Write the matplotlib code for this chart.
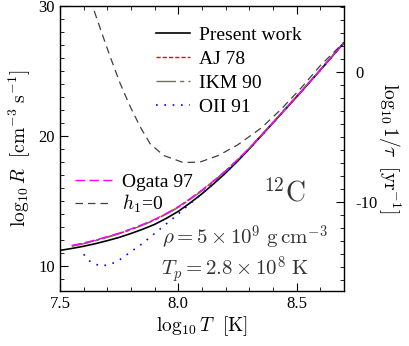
import matplotlib as mpl
mpl.use('Agg')
import matplotlib.pyplot as plt
from matplotlib.ticker import MultipleLocator, FixedLocator, FixedFormatter

plt.rcParams['font.family'] = ['Liberation Serif', 'DejaVu Serif']
plt.rcParams['mathtext.fontset'] = 'cm'

# log10 T and log10 R
t_present = [7.5, 7.55, 7.6, 7.65, 7.7, 7.75, 7.8, 7.85, 7.9, 7.95, 8.0, 8.05, 8.1,
             8.15, 8.2, 8.25, 8.3, 8.35, 8.4, 8.45, 8.5, 8.55, 8.6, 8.65, 8.7]
r_present = [11.2, 11.35, 11.52, 11.72, 11.95, 12.2, 12.5, 12.83, 13.2, 13.67, 14.2, 14.85, 15.55,
             16.33, 17.15, 18.05, 19.0, 20.0, 21.0, 22.0, 23.0, 24.02, 25.05, 26.1, 27.15]

t_grid = [7.55, 7.6, 7.65, 7.7, 7.75, 7.8, 7.85, 7.9, 7.95, 8.0, 8.05, 8.1,
          8.15, 8.2, 8.25, 8.3, 8.35, 8.4, 8.45, 8.5, 8.55, 8.6, 8.65, 8.7]
r_aj = [11.55, 11.74, 11.97, 12.23, 12.5, 12.82, 13.17, 13.55, 14.02, 14.53, 15.15, 15.81,
        16.53, 17.3, 18.15, 19.05, 20.02, 21.02, 22.02, 23.02, 24.04, 25.07, 26.12, 27.17]
r_ikm = [11.52, 11.71, 11.94, 12.2, 12.47, 12.79, 13.14, 13.52, 13.99, 14.5, 15.12, 15.78,
         16.5, 17.28, 18.14, 19.05, 20.04, 21.05, 22.05, 23.05, 24.06, 25.08, 26.12, 27.17]
r_ogata = [11.58, 11.77, 12.0, 12.26, 12.53, 12.85, 13.2, 13.58, 14.05, 14.56, 15.18, 15.84,
           16.56, 17.32, 18.17, 19.06, 20.03, 21.02, 22.02, 23.02, 24.04, 25.07, 26.12, 27.17]

t_oii = [7.6, 7.63, 7.67, 7.71, 7.75, 7.8, 7.85, 7.88, 7.95, 8.0, 8.05, 8.1,
         8.2, 8.3, 8.4, 8.5, 8.6, 8.7]
r_oii = [10.9, 10.3, 10.0, 10.1, 10.45, 11.1, 11.75, 12.2, 13.25, 14.0, 14.8, 15.55,
         17.15, 19.0, 21.0, 23.0, 25.05, 27.15]

t_h1 = [7.62, 7.641, 7.677, 7.712, 7.754, 7.797, 7.839, 7.881, 7.938, 8.022, 8.093,
        8.17, 8.25, 8.35, 8.432, 8.52, 8.6, 8.7]
r_h1 = [31.2, 29.8, 27.9, 26.1, 24.05, 22.25, 20.7, 19.4, 18.5, 17.95, 18.0,
        18.5, 19.3, 20.6, 22.0, 23.7, 25.4, 27.2]

right_offset = 24.9   # log10 1/tau = log10 R - offset

fig = plt.figure(figsize=(4.09, 3.46), dpi=100)
ax = fig.add_axes([0.1467, 0.159, 0.694, 0.824])

l1, = ax.plot(t_present, r_present, '-', color='black', lw=1.2, label='Present work')
l2, = ax.plot(t_grid, r_aj, color='#ff0000', lw=1.0, dashes=(3, 1.5), label='AJ 78')
l3, = ax.plot(t_grid, r_ikm, color='#707060', lw=1.0, dashes=(14, 3, 3, 3), label='IKM 90')
l4, = ax.plot(t_oii, r_oii, color='#0000ff', lw=1.2, dashes=(1, 4), label='OII 91')
l5, = ax.plot(t_grid, r_ogata, color='#ff00ff', lw=1.0, dashes=(7, 3), label='Ogata 97')
l6, = ax.plot(t_h1, r_h1, color='#404040', lw=0.9, dashes=(6, 4), label='$h_1$=0')

ax.set_xlim(7.5, 8.7)
ax.set_ylim(8.08, 30)
ax.xaxis.set_major_locator(FixedLocator([7.5, 8.0, 8.5]))
ax.xaxis.set_major_formatter(FixedFormatter(['7.5', '8.0', '8.5']))
ax.xaxis.set_minor_locator(MultipleLocator(0.1))
ax.yaxis.set_major_locator(MultipleLocator(10))
ax.yaxis.set_minor_locator(MultipleLocator(1))
ax.tick_params(which='both', direction='in', top=True, right=False, labelsize=12)
ax.tick_params(which='major', length=6)
ax.tick_params(which='minor', length=3)
for s in ax.spines.values():
    s.set_linewidth(1.0)
    s.set_color('#333333')

ax.set_xlabel(r'$\log_{10}T\ \ [\mathrm{K}]$', fontsize=14, labelpad=2)
ax.set_ylabel(r'$\log_{10}R\ \ [\mathrm{cm}^{-3}\ \mathrm{s}^{-1}]$', fontsize=14, labelpad=4)

ax2 = ax.twinx()
ax2.set_ylim(8.08 - right_offset, 30 - right_offset)
ax2.yaxis.set_major_locator(FixedLocator([-10, 0]))
ax2.yaxis.set_major_formatter(FixedFormatter(['-10', '0']))
ax2.yaxis.set_minor_locator(MultipleLocator(1))
ax2.tick_params(which='both', direction='in', labelsize=12)
ax2.tick_params(which='major', length=6, pad=8)
ax2.tick_params(which='minor', length=3)
ax2.set_ylabel(r'$\log_{10}1/\tau\ \ [\mathrm{yr}^{-1}]$', fontsize=14, rotation=-90, labelpad=18)

leg1 = ax.legend(handles=[l1, l2, l3, l4], loc='upper right', bbox_to_anchor=(0.88, 0.955),
                 frameon=False, fontsize=14, handlelength=1.75, labelspacing=0.32,
                 borderaxespad=0, handletextpad=0.5)
ax.add_artist(leg1)
ax.legend(handles=[l5, l6], loc='center left', bbox_to_anchor=(0.026, 0.34),
          frameon=False, fontsize=14, handlelength=1.9, labelspacing=0.1,
          borderaxespad=0, handletextpad=0.5)

ax.text(8.449, 15.6, r'$^{12}\mathrm{C}$', fontsize=20, ha='center', va='center', color='#333333')
ax.text(7.932, 11.6, r'$\rho = 5 \times 10^9\ \mathrm{g\,cm}^{-3}$', fontsize=15,
        va='baseline', color='#333333')
ax.text(7.928, 9.3, r'$T_p = 2.8 \times 10^8\ \mathrm{K}$', fontsize=15,
        va='baseline', color='#333333')

fig.savefig('out.png', dpi=100)
